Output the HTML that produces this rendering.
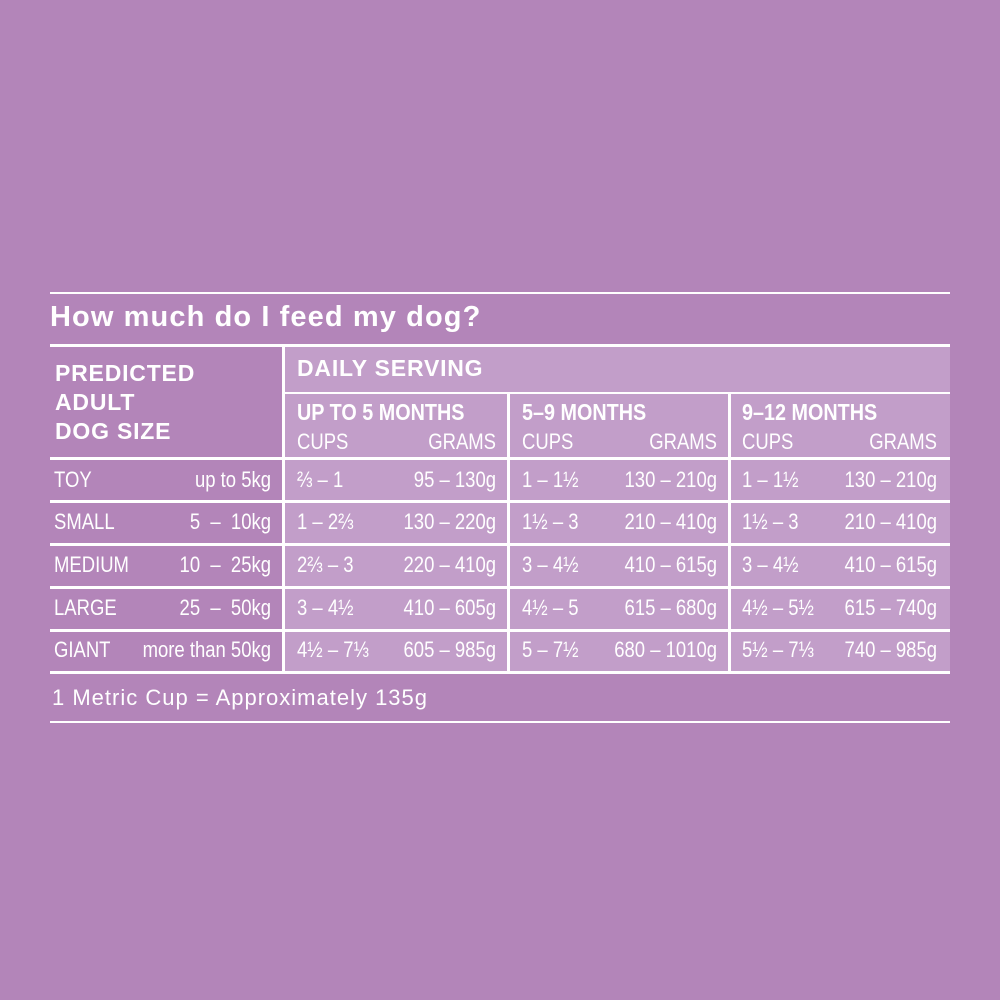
<!DOCTYPE html>
<html><head><meta charset="utf-8"><style>
body{margin:0;width:1000px;height:1000px;background:#b385b9;position:relative;overflow:hidden;font-family:"Liberation Sans",sans-serif;color:#fff}
.a{position:absolute;white-space:nowrap}
.h{background:#fff;position:absolute;height:2px}
.v{background:#fff;position:absolute;width:3px}
.c{font-size:22px;line-height:24px;transform:scaleX(.84);transform-origin:left center}
.r{text-align:right;transform-origin:right center}
.b{font-weight:bold}
.m{font-size:23px;font-weight:bold;transform:scaleX(.86)}
</style></head><body>
<div class="a" style="left:285px;top:347px;width:665px;height:325px;background:#c29ec9"></div>
<div class="h" style="left:50px;top:292px;width:900px"></div>
<div class="a b" style="left:50px;top:301px;font-size:29px;letter-spacing:1.1px">How much do I feed my dog?</div>
<div class="h" style="left:50px;top:344px;width:900px;height:3px"></div>
<div class="v" style="left:282px;top:347px;height:326px"></div>
<div class="a b" style="left:55px;top:359px;font-size:23px;line-height:29px;letter-spacing:0.8px">PREDICTED<br>ADULT<br>DOG SIZE</div>
<div class="a b" style="left:297px;top:355px;font-size:23px;letter-spacing:0.8px">DAILY SERVING</div>
<div class="h" style="left:285px;top:392px;width:665px"></div>
<div class="v" style="left:507px;top:394px;height:279px"></div>
<div class="v" style="left:728px;top:394px;height:279px"></div>
<div class="a c m" style="left:297px;top:400px">UP TO 5 MONTHS</div>
<div class="a c m" style="left:522px;top:400px">5–9 MONTHS</div>
<div class="a c m" style="left:742px;top:400px">9–12 MONTHS</div>
<div class="a c" style="left:297px;top:430px">CUPS</div><div class="a c r" style="left:396px;width:100px;top:430px">GRAMS</div>
<div class="a c" style="left:522px;top:430px">CUPS</div><div class="a c r" style="left:617px;width:100px;top:430px">GRAMS</div>
<div class="a c" style="left:742px;top:430px">CUPS</div><div class="a c r" style="left:837px;width:100px;top:430px">GRAMS</div>
<div class="h" style="left:50px;top:457px;width:900px;height:3px"></div>
<div class="h" style="left:50px;top:500px;width:900px;height:3px"></div>
<div class="h" style="left:50px;top:543px;width:900px;height:3px"></div>
<div class="h" style="left:50px;top:586px;width:900px;height:3px"></div>
<div class="h" style="left:50px;top:629px;width:900px;height:3px"></div>
<div class="h" style="left:50px;top:671px;width:900px;height:3px"></div>

<div class="a c" style="left:54px;top:468px">TOY</div><div class="a c r" style="left:101px;width:170px;top:468px">up to 5kg</div>
<div class="a c" style="left:297px;top:468px">⅔ – 1</div><div class="a c r" style="left:326px;width:170px;top:468px">95 – 130g</div>
<div class="a c" style="left:522px;top:468px">1 – 1½</div><div class="a c r" style="left:547px;width:170px;top:468px">130 – 210g</div>
<div class="a c" style="left:742px;top:468px">1 – 1½</div><div class="a c r" style="left:767px;width:170px;top:468px">130 – 210g</div>

<div class="a c" style="left:54px;top:510px">SMALL</div><div class="a c r" style="left:101px;width:170px;top:510px">5 &nbsp;– &nbsp;10kg</div>
<div class="a c" style="left:297px;top:510px">1 – 2⅔</div><div class="a c r" style="left:326px;width:170px;top:510px">130 – 220g</div>
<div class="a c" style="left:522px;top:510px">1½ – 3</div><div class="a c r" style="left:547px;width:170px;top:510px">210 – 410g</div>
<div class="a c" style="left:742px;top:510px">1½ – 3</div><div class="a c r" style="left:767px;width:170px;top:510px">210 – 410g</div>

<div class="a c" style="left:54px;top:553px">MEDIUM</div><div class="a c r" style="left:101px;width:170px;top:553px">10 &nbsp;– &nbsp;25kg</div>
<div class="a c" style="left:297px;top:553px">2⅔ – 3</div><div class="a c r" style="left:326px;width:170px;top:553px">220 – 410g</div>
<div class="a c" style="left:522px;top:553px">3 – 4½</div><div class="a c r" style="left:547px;width:170px;top:553px">410 – 615g</div>
<div class="a c" style="left:742px;top:553px">3 – 4½</div><div class="a c r" style="left:767px;width:170px;top:553px">410 – 615g</div>

<div class="a c" style="left:54px;top:596px">LARGE</div><div class="a c r" style="left:101px;width:170px;top:596px">25 &nbsp;– &nbsp;50kg</div>
<div class="a c" style="left:297px;top:596px">3 – 4½</div><div class="a c r" style="left:326px;width:170px;top:596px">410 – 605g</div>
<div class="a c" style="left:522px;top:596px">4½ – 5</div><div class="a c r" style="left:547px;width:170px;top:596px">615 – 680g</div>
<div class="a c" style="left:742px;top:596px">4½ – 5½</div><div class="a c r" style="left:767px;width:170px;top:596px">615 – 740g</div>

<div class="a c" style="left:54px;top:638px">GIANT</div><div class="a c r" style="left:101px;width:170px;top:638px">more than 50kg</div>
<div class="a c" style="left:297px;top:638px">4½ – 7⅓</div><div class="a c r" style="left:326px;width:170px;top:638px">605 – 985g</div>
<div class="a c" style="left:522px;top:638px">5 – 7½</div><div class="a c r" style="left:547px;width:170px;top:638px">680 – 1010g</div>
<div class="a c" style="left:742px;top:638px">5½ – 7⅓</div><div class="a c r" style="left:767px;width:170px;top:638px">740 – 985g</div>

<div class="a" style="left:52px;top:685px;font-size:22px;letter-spacing:1px">1 Metric Cup = Approximately 135g</div>
<div class="h" style="left:50px;top:721px;width:900px"></div>
</body></html>
